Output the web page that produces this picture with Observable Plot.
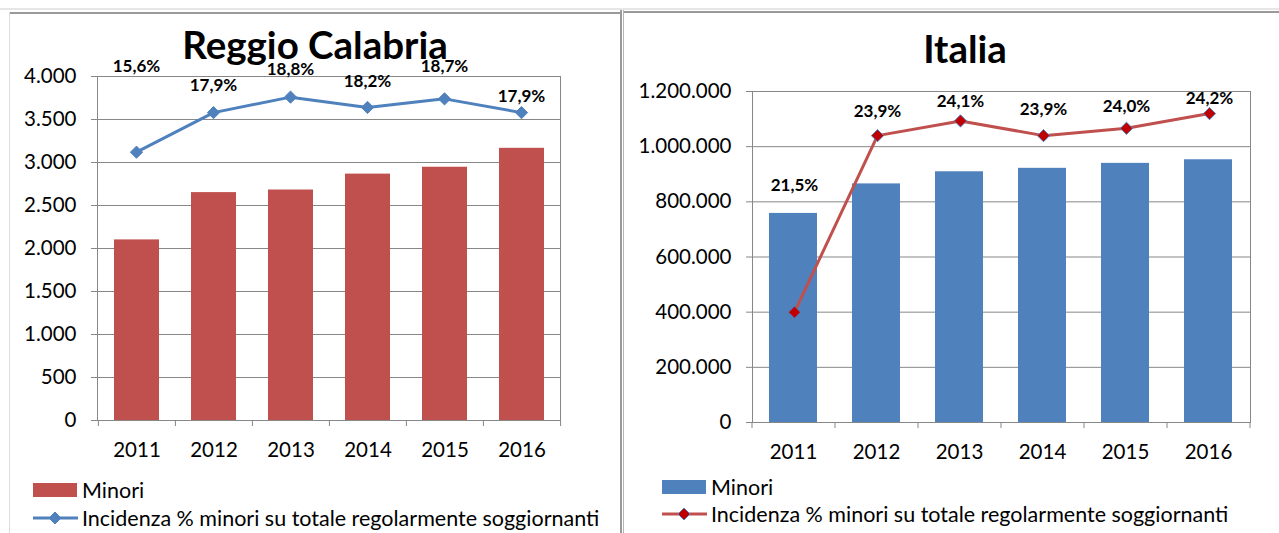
<!DOCTYPE html>
<html><head><meta charset="utf-8">
<script src="https://cdn.jsdelivr.net/npm/d3@7"></script>
<script src="https://cdn.jsdelivr.net/npm/@observablehq/plot@0.6"></script>
<style>
body{margin:0;background:#fff;}
#wrap{position:relative;width:1279px;height:533px;overflow:hidden;background:#fff;font-family:Lato, sans-serif;color:#000;}
#wrap svg{background:transparent !important;max-width:none !important;}
.layer{position:absolute;top:0;}
.title{position:absolute;font-weight:700;font-size:38.5px;line-height:38px;text-align:center;white-space:nowrap;}
.leg{position:absolute;font-size:21.5px;line-height:22px;white-space:nowrap;}
.ln{position:absolute;}
</style></head><body><div id="wrap"></div>
<script>
// ---- data ----
const years = ["2011","2012","2013","2014","2015","2016"];
const reggioMinori = [2100, 2650, 2680, 2865, 2945, 3165];
const reggioIncidenza = [15.6, 17.9, 18.8, 18.2, 18.7, 17.9];
const italiaMinori = [758000, 865000, 909000, 921500, 939500, 952500];
const italiaIncidenza = [21.5, 23.9, 24.1, 23.9, 24.0, 24.2];
const reggioTicks = [0,500,1000,1500,2000,2500,3000,3500,4000];
const italiaTicks = [0,200000,400000,600000,800000,1000000,1200000];
const titles = ["Reggio Calabria","Italia"];
const legendLabels = ["Minori","Incidenza % minori su totale regolarmente soggiornanti"];

// ---- formatting ----
const it = d3.formatLocale({decimal:",", thousands:".", grouping:[3], currency:["","€"]});
const fmtInt = it.format(",d");
const fmtPct = v => it.format(".1f")(v) + "%";

const wrap = document.getElementById("wrap");
function add(html){ wrap.insertAdjacentHTML("beforeend", html); }

// panel borders
add('<div class="ln" style="left:0;top:8px;width:1279px;height:2px;background:#e6e6e6"></div>');
add('<div class="ln" style="left:10px;top:12px;width:611px;height:2px;background:#9a9a9a"></div>');
add('<div class="ln" style="left:624px;top:11px;width:655px;height:2px;background:#9a9a9a"></div>');
add('<div class="ln" style="left:9px;top:12px;width:1px;height:521px;background:#dcdcdc"></div>');
add('<div class="ln" style="left:620px;top:10px;width:2px;height:523px;background:#9a9a9a"></div>');
add('<div class="ln" style="left:623px;top:10px;width:1px;height:523px;background:#b5b5b5"></div>');

function panel(o){
  const rows = years.map((y,i)=>({year:y, minori:o.minori[i], incid:o.incid[i]}));
  const step = (o.width - o.ml - o.mr) / years.length;
  const common = {width:o.width, height:o.height, marginLeft:o.ml, marginRight:o.mr, marginTop:o.mt, marginBottom:o.mb,
    style:{fontFamily:"Lato, sans-serif", fontSize:"20px", color:"#000", background:"transparent", overflow:"visible"}};
  const base = Plot.plot({...common,
    x:{domain:years, paddingInner:0.42, paddingOuter:0.21, axis:null, label:null},
    y:{domain:[0, o.ticks[o.ticks.length-1]], axis:null, label:null},
    marks:[
      Plot.gridY(o.ticks, {stroke:"#878787", strokeOpacity:1}),
      Plot.barY(rows, {x:"year", y:"minori", fill:o.barColor}),
      Plot.frame({stroke:"#878787"}),
      Plot.axisY(o.ticks, {tickFormat:fmtInt, tickSize:6, tickPadding:15, stroke:"#878787", fill:"#000", fontSize:20.5, label:null}),
      Plot.axisX({tickSize:0, tickPadding:22, fill:"#000", fontSize:20.5, label:null}),
      Plot.axisX({text:null, tickSize:6, dx:-step/2, stroke:"#878787", label:null}),
      Plot.axisX(years.slice(-1), {text:null, tickSize:6, dx:step/2, stroke:"#878787", label:null})
    ]});
  const over = Plot.plot({...common,
    x:{type:"point", domain:years, padding:0.5, axis:null},
    y:{domain:o.pDomain, axis:null},
    marks:[
      Plot.line(rows, {x:"year", y:"incid", stroke:o.lineColor, strokeWidth:3}),
      Plot.dot(rows, {x:"year", y:"incid", symbol:"diamond2", r:o.dotR, fill:o.dotFill, stroke:o.dotStroke, strokeWidth:1}),
      ...rows.map((d,i)=>Plot.text([d], {x:"year", y:"incid", text:r=>fmtPct(r.incid), dy:o.labelDy[i], fontWeight:"bold", fontSize:17, fill:"#000"}))
    ]});
  for (const svg of [base, over]) {
    const div = document.createElement("div");
    div.className = "layer";
    div.style.left = o.left + "px";
    div.style.width = o.width + "px";
    div.appendChild(svg);
    wrap.appendChild(div);
  }
}

panel({left:0, width:615, height:470, ml:97, mr:55, mt:76, mb:50,
  minori:reggioMinori, incid:reggioIncidenza, ticks:reggioTicks, pDomain:[0,20],
  barColor:"#C0504D", lineColor:"#4F81BD", dotFill:"#4F81BD", dotStroke:"#4F81BD", dotR:5.5,
  labelDy:[-86,-27,-28,-26,-32,-16]});
panel({left:622, width:657, height:470, ml:130, mr:29, mt:91, mb:48,
  minori:italiaMinori, incid:italiaIncidenza, ticks:italiaTicks, pDomain:[20,24.5],
  barColor:"#4F81BD", lineColor:"#C0504D", dotFill:"#C00000", dotStroke:"#4F81BD", dotR:5.5,
  labelDy:[-127,-24,-19,-26,-22,-15]});

// titles
add(`<div class="title" style="left:115px;top:25px;width:400px">${titles[0]}</div>`);
add(`<div class="title" style="left:765px;top:29px;width:400px">${titles[1]}</div>`);

// legends
function legend(x, y1, y2, barColor, lineColor, dotFill, dotStroke){
  add(`<div class="ln" style="left:${x}px;top:${y1-7}px;width:44px;height:14px;background:${barColor}"></div>`);
  add(`<div class="leg" style="left:${x+49}px;top:${y1-11}px">${legendLabels[0]}</div>`);
  add(`<svg class="ln" style="left:${x}px;top:${y2-8}px" width="46" height="16"><line x1="0" x2="45" y1="8" y2="8" stroke="${lineColor}" stroke-width="3"/><path d="M22,2 L28,8 L22,14 L16,8 Z" fill="${dotFill}" stroke="${dotStroke}" stroke-width="1"/></svg>`);
  add(`<div class="leg" style="left:${x+49}px;top:${y2-11}px">${legendLabels[1]}</div>`);
}
legend(33, 490, 518, "#C0504D", "#4F81BD", "#4F81BD", "#4F81BD");
legend(662, 487, 514, "#4F81BD", "#C0504D", "#C00000", "#4F81BD");
</script></body></html>
